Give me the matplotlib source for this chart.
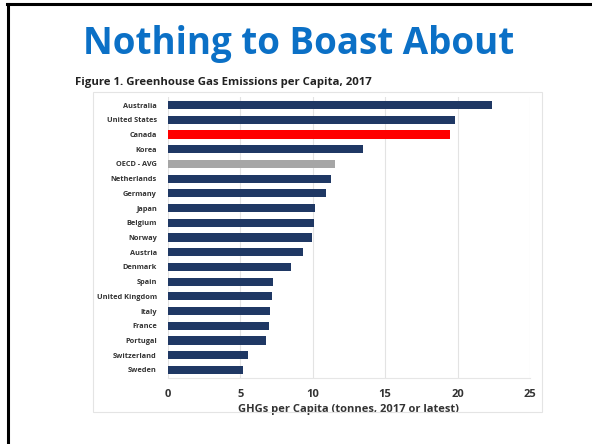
import matplotlib
matplotlib.use("Agg")
import matplotlib.pyplot as plt
from matplotlib.patches import Rectangle
from matplotlib.lines import Line2D

countries = ["Australia", "United States", "Canada", "Korea", "OECD - AVG",
             "Netherlands", "Germany", "Japan", "Belgium", "Norway", "Austria",
             "Denmark", "Spain", "United Kingdom", "Italy", "France", "Portugal",
             "Switzerland", "Sweden"]
ghg_per_capita = [22.4, 19.8, 19.5, 13.5, 11.5, 11.25, 10.9, 10.15, 10.05, 9.97,
                  9.3, 8.5, 7.27, 7.16, 7.05, 7.0, 6.8, 5.55, 5.2]
x_ticks = [0, 5, 10, 15, 20, 25]

NAVY = "#1F3864"
RED = "#FF0000"
GREY = "#A6A6A6"

def bar_color(name):
    if name == "Canada":
        return RED
    if name == "OECD - AVG":
        return GREY
    return NAVY

W, H = 592, 444
fig = plt.figure(figsize=(W / 100, H / 100), dpi=100)
fig.patch.set_facecolor("white")

def fx(px):
    return px / W

def fy(py):
    return 1 - py / H

# slide frame (left and top edges)
fig.add_artist(Line2D([fx(8), fx(8)], [fy(4), 0], color="black", lw=2.2,
                      transform=fig.transFigure))
fig.add_artist(Line2D([fx(7), 1], [fy(4), fy(4)], color="black", lw=2.2,
                      transform=fig.transFigure))

# chart area box
fig.add_artist(Rectangle((fx(93), fy(412)), fx(542) - fx(93), fy(92) - fy(412),
                         transform=fig.transFigure, fill=False,
                         edgecolor="#E4E4E4", lw=0.8))

# slide heading and figure caption
fig.text(fx(299), fy(44), "Nothing to Boast About", ha="center", va="center",
         fontsize=26.5, fontweight="bold", color="#0B70C6", family="Open Sans")
fig.text(fx(75), fy(83), "Figure 1. Greenhouse Gas Emissions per Capita, 2017",
         ha="left", va="center", fontsize=8.2, fontweight="bold",
         color="#222222", family="Open Sans")

ax = fig.add_axes([fx(168), fy(378), fx(530) - fx(168), fy(97) - fy(378)])
ypos = list(range(len(countries)))
ax.barh(ypos, ghg_per_capita, height=0.55,
        color=[bar_color(c) for c in countries], zorder=3)

ax.set_xlim(x_ticks[0], x_ticks[-1])
ax.set_ylim(len(countries) - 0.45, -0.55)
ax.set_xticks(x_ticks)
ax.set_xticklabels([str(t) for t in x_ticks])
ax.set_yticks(ypos)
ax.set_yticklabels(countries)

for s in ["top", "right", "left"]:
    ax.spines[s].set_visible(False)
ax.spines["bottom"].set_color("#E6E6E6")
ax.spines["bottom"].set_linewidth(0.8)

ax.grid(axis="x", color="#E3E3E3", lw=0.8, zorder=0)
ax.tick_params(axis="both", length=0)
ax.tick_params(axis="y", pad=8)
ax.tick_params(axis="x", pad=8)

for lab in ax.get_yticklabels():
    lab.set_fontsize(5.3)
    lab.set_fontweight("bold")
    lab.set_color("#333333")
    lab.set_family("Open Sans")
for lab in ax.get_xticklabels():
    lab.set_fontsize(8)
    lab.set_fontweight("bold")
    lab.set_color("#333333")
    lab.set_family("Open Sans")

ax.set_xlabel("GHGs per Capita (tonnes, 2017 or latest)", fontsize=8,
              fontweight="bold", color="#333333", family="Open Sans",
              labelpad=3)

fig.savefig("out.png", dpi=100, facecolor="white")
